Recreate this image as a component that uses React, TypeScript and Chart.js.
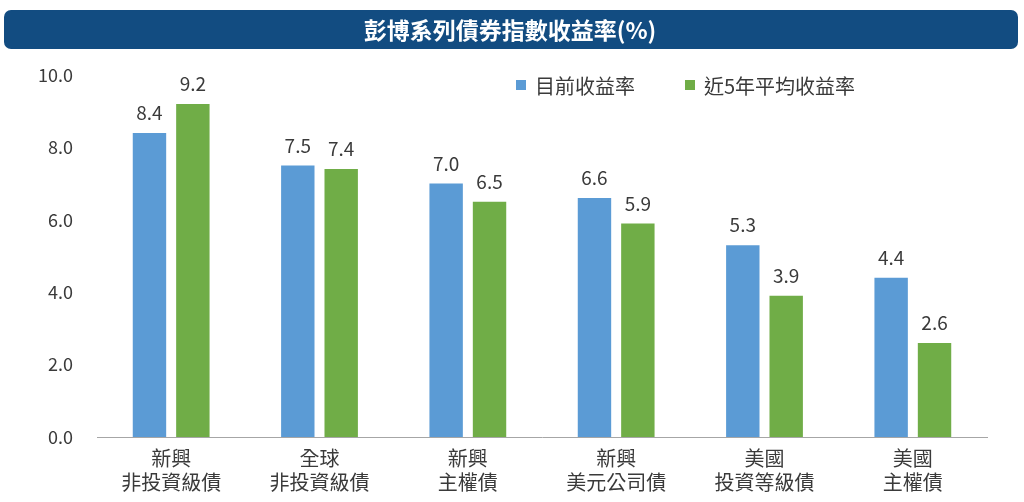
import React, { useEffect, useRef } from "react";
import { Chart, registerables } from "chart.js";

Chart.register(...registerables);

const titleText = "彭博系列債券指數收益率(%)";
const categories: string[][] = [
  ["新興", "非投資級債"],
  ["全球", "非投資級債"],
  ["新興", "主權債"],
  ["新興", "美元公司債"],
  ["美國", "投資等級債"],
  ["美國", "主權債"],
];
const seriesNames = ["目前收益率", "近5年平均收益率"];
const currentYield = [8.4, 7.5, 7.0, 6.6, 5.3, 4.4];
const avg5Yield = [9.2, 7.4, 6.5, 5.9, 3.9, 2.6];
const seriesColors = ["#5b9bd5", "#70ad47"];
const yTicks = [0, 2, 4, 6, 8, 10];

const FONT = "'Noto Sans CJK TC', 'Noto Sans', sans-serif";
const TEXT = "#3a3a3a";

const decorPlugin = {
  id: "decor",
  afterDraw(chart: any) {
    const ctx = chart.ctx as CanvasRenderingContext2D;
    ctx.save();
    // title bar
    ctx.fillStyle = "#124c81";
    ctx.beginPath();
    (ctx as any).roundRect(4, 10, 1014, 39, 7);
    ctx.fill();
    ctx.fillStyle = "#ffffff";
    ctx.font = `bold 23px ${FONT}`;
    ctx.textAlign = "center";
    ctx.textBaseline = "middle";
    ctx.fillText(titleText, 510, 30);

    // legend
    ctx.font = `20px ${FONT}`;
    ctx.textAlign = "left";
    ctx.textBaseline = "middle";
    const legendX = [516, 685];
    seriesNames.forEach((name, i) => {
      ctx.fillStyle = seriesColors[i];
      ctx.fillRect(legendX[i], 80, 10, 10);
      ctx.fillStyle = TEXT;
      ctx.fillText(name, legendX[i] + 19, 86);
    });

    // value labels
    ctx.font = `19px ${FONT}`;
    ctx.textAlign = "center";
    ctx.fillStyle = TEXT;
    chart.data.datasets.forEach((ds: any, di: number) => {
      const meta = chart.getDatasetMeta(di);
      meta.data.forEach((bar: any, i: number) => {
        ctx.fillText(Number(ds.data[i]).toFixed(1), bar.x, bar.y - 20);
      });
    });
    ctx.restore();
  },
};

export default function App() {
  const ref = useRef<HTMLCanvasElement>(null);
  useEffect(() => {
    if (!ref.current) return;
    const chart = new Chart(ref.current, {
      type: "bar",
      data: {
        labels: categories,
        datasets: [
          {
            label: seriesNames[0],
            data: currentYield,
            backgroundColor: seriesColors[0],
            barPercentage: 0.77,
            categoryPercentage: 0.585,
          },
          {
            label: seriesNames[1],
            data: avg5Yield,
            backgroundColor: seriesColors[1],
            barPercentage: 0.77,
            categoryPercentage: 0.585,
          },
        ],
      },
      options: {
        animation: false,
        responsive: false,
        maintainAspectRatio: false,
        layout: { padding: { top: 75, left: 0, right: 37, bottom: 0 } },
        plugins: {
          legend: { display: false },
          title: { display: false },
          tooltip: { enabled: false },
        },
        scales: {
          x: {
            grid: { display: false, drawTicks: false },
            border: { display: true, color: "#a6a6a6", width: 1 },
            ticks: {
              color: TEXT,
              font: { family: FONT, size: 20, lineHeight: 1.2 },
              padding: 9,
              maxRotation: 0,
              autoSkip: false,
            },
            afterFit: (scale: any) => {
              scale.height = 65;
            },
          },
          y: {
            min: 0,
            max: 10,
            grid: { display: false, drawTicks: false },
            border: { display: false },
            afterBuildTicks: (scale: any) => {
              scale.ticks = yTicks.map((v) => ({ value: v }));
            },
            ticks: {
              color: TEXT,
              font: { family: FONT, size: 18 },
              padding: 24,
              callback: (v: any) => Number(v).toFixed(1),
            },
            afterFit: (scale: any) => {
              scale.width = 97;
            },
          },
        },
      },
      plugins: [decorPlugin],
    });
    return () => chart.destroy();
  }, []);
  return (
    <div style={{ position: "fixed", left: 0, top: 0, width: 1024, height: 502, background: "#fff" }}>
      <canvas ref={ref} width={1024} height={502} style={{ width: 1024, height: 502, display: "block" }} />
    </div>
  );
}
